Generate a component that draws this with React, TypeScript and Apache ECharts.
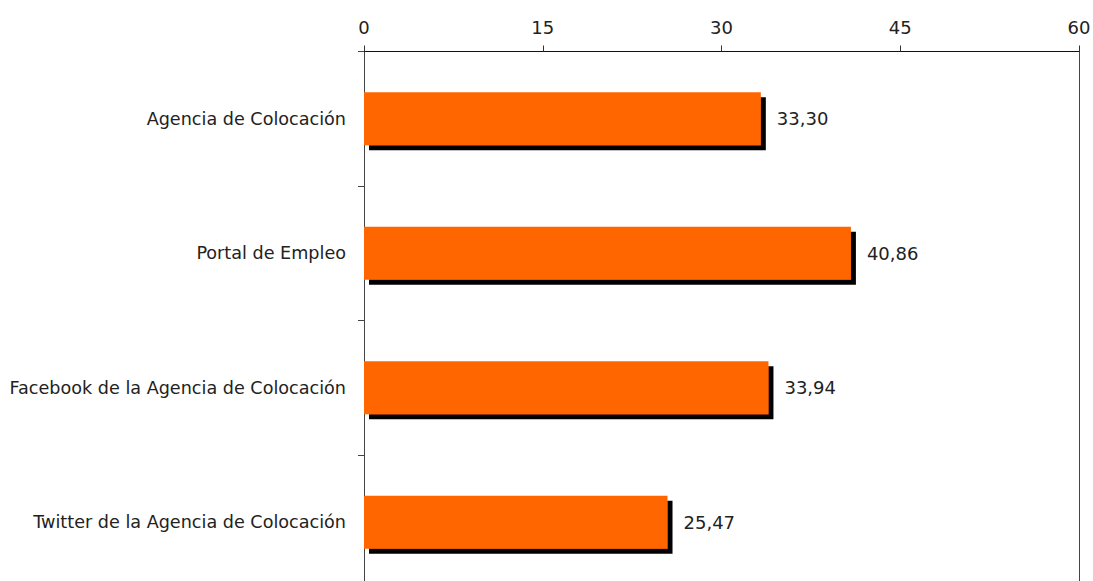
import React, { useEffect, useRef } from "react";
import * as echarts from "echarts";

const categories = [
  "Agencia de Colocación",
  "Portal de Empleo",
  "Facebook de la Agencia de Colocación",
  "Twitter de la Agencia de Colocación",
];
const values = [33.3, 40.86, 33.94, 25.47];
const xTicks = [0, 15, 30, 45, 60];

const FONT = "'DejaVu Sans', sans-serif";

export default function App() {
  const ref = useRef<HTMLDivElement>(null);
  useEffect(() => {
    if (!ref.current) return;
    const chart = echarts.init(ref.current, null, { renderer: "svg" });
    chart.setOption({
      animation: false,
      grid: {
        left: 364,
        top: 51.5,
        width: 715,
        height: 538,
        containLabel: false,
        outerBoundsMode: "none",
      },
      xAxis: {
        type: "value",
        position: "top",
        min: xTicks[0],
        max: xTicks[xTicks.length - 1],
        interval: 15,
        axisLine: { show: true, lineStyle: { color: "#111", width: 1 } },
        axisTick: { show: true, inside: false, length: 6, lineStyle: { color: "#333" } },
        splitLine: { show: false },
        axisLabel: { color: "#222", fontSize: 18, fontFamily: FONT, margin: 15 },
      },
      yAxis: [
        {
          type: "category",
          data: categories,
          inverse: true,
          axisLine: { show: true, lineStyle: { color: "#444", width: 1 } },
          axisTick: { show: true, length: 6, lineStyle: { color: "#444" } },
          axisLabel: { color: "#222", fontSize: 17.6, fontFamily: FONT, margin: 18 },
        },
        {
          type: "category",
          data: categories,
          inverse: true,
          position: "right",
          axisLine: { show: true, lineStyle: { color: "#444", width: 1 } },
          axisTick: { show: false },
          axisLabel: { show: false },
        },
      ],
      series: [
        {
          type: "bar",
          data: values,
          barWidth: "39.4%",
          itemStyle: {
            color: "#FF6600",
            shadowColor: "#000",
            shadowBlur: 0,
            shadowOffsetX: 5,
            shadowOffsetY: 5,
          },
          label: {
            show: true,
            position: "right",
            distance: 16,
            color: "#222",
            fontSize: 18,
            fontFamily: FONT,
            formatter: (p: any) => p.value.toFixed(2).replace(".", ","),
          },
        },
      ],
    });
    return () => chart.dispose();
  }, []);
  return (
    <div
      ref={ref}
      style={{ position: "fixed", left: 0, top: 0, width: 1093, height: 581, background: "#fff" }}
    />
  );
}
